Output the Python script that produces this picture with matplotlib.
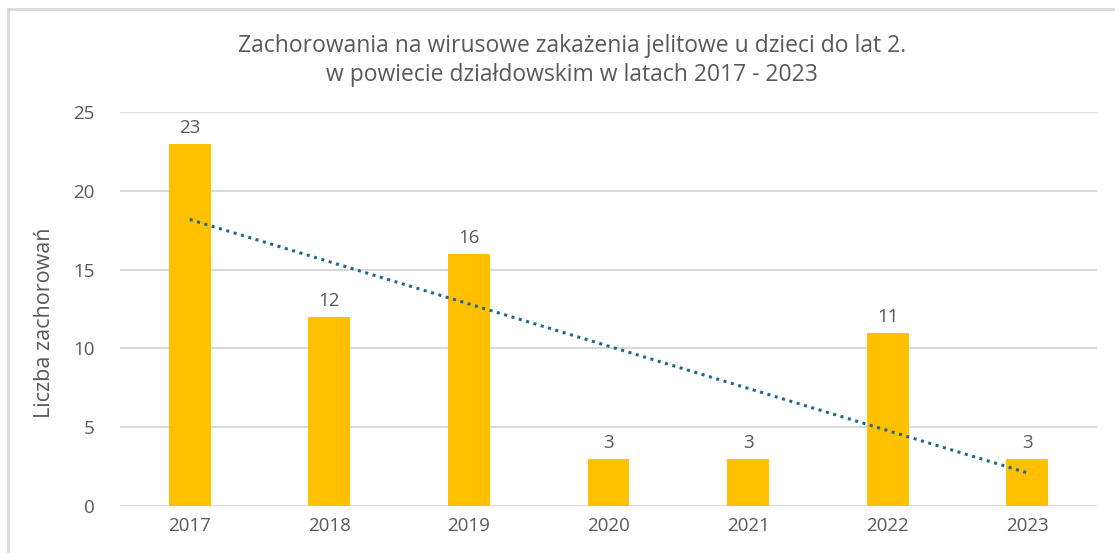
import numpy as np
import matplotlib.pyplot as plt
from matplotlib.patches import Rectangle

plt.rcParams['font.family'] = ['Open Sans', 'DejaVu Sans']

years = ['2017', '2018', '2019', '2020', '2021', '2022', '2023']
cases = [23, 12, 16, 3, 3, 11, 3]

grey = '#595959'

fig = plt.figure(figsize=(11.15, 5.53), dpi=100)
ax = fig.add_axes([0.1076, 0.085, 0.8763, 0.7125])

x = np.arange(len(years))
ax.bar(x, cases, width=0.3, color='#FFC000', zorder=2)
for xi, v in zip(x, cases):
    ax.annotate(str(v), (xi, v), xytext=(0, 5), textcoords='offset points',
                ha='center', va='bottom', fontsize=13.5, color=grey)

# linear trend line
k, b = np.polyfit(x, cases, 1)
ax.plot(x, k * x + b, ls=(0, (1, 1.5)), lw=2.2, color='#1F6A8C', zorder=3)

ax.set_xlim(-0.5, len(years) - 0.5)
ax.set_ylim(0, 25)
ax.set_yticks(range(0, 26, 5))
ax.set_xticks(x)
ax.set_xticklabels(years)
ax.tick_params(length=0, labelsize=13.5, colors=grey, pad=8)
ax.tick_params(axis='y', pad=18)
ax.grid(axis='y', color='#D9D9D9', lw=1.5, zorder=0)
ax.set_axisbelow(True)
for s in ax.spines.values():
    s.set_visible(False)

ax.set_ylabel('Liczba zachorowań', fontsize=15.5, color=grey)
ax.yaxis.set_label_coords(-0.066, 0.464)

fig.text(0.513, 0.891, 'Zachorowania na wirusowe zakażenia jelitowe u dzieci do lat 2.\n'
         'w powiecie działdowskim w latach 2017 - 2023',
         ha='center', va='center', fontsize=16.5, color=grey, linespacing=1.25)

fig.patches.append(Rectangle((8 / 1115, -0.1), 1.2, 1.1 - 9 / 553,
                             transform=fig.transFigure, fill=False,
                             edgecolor='#D9D9D9', lw=2))

fig.savefig('out.png', dpi=100)
